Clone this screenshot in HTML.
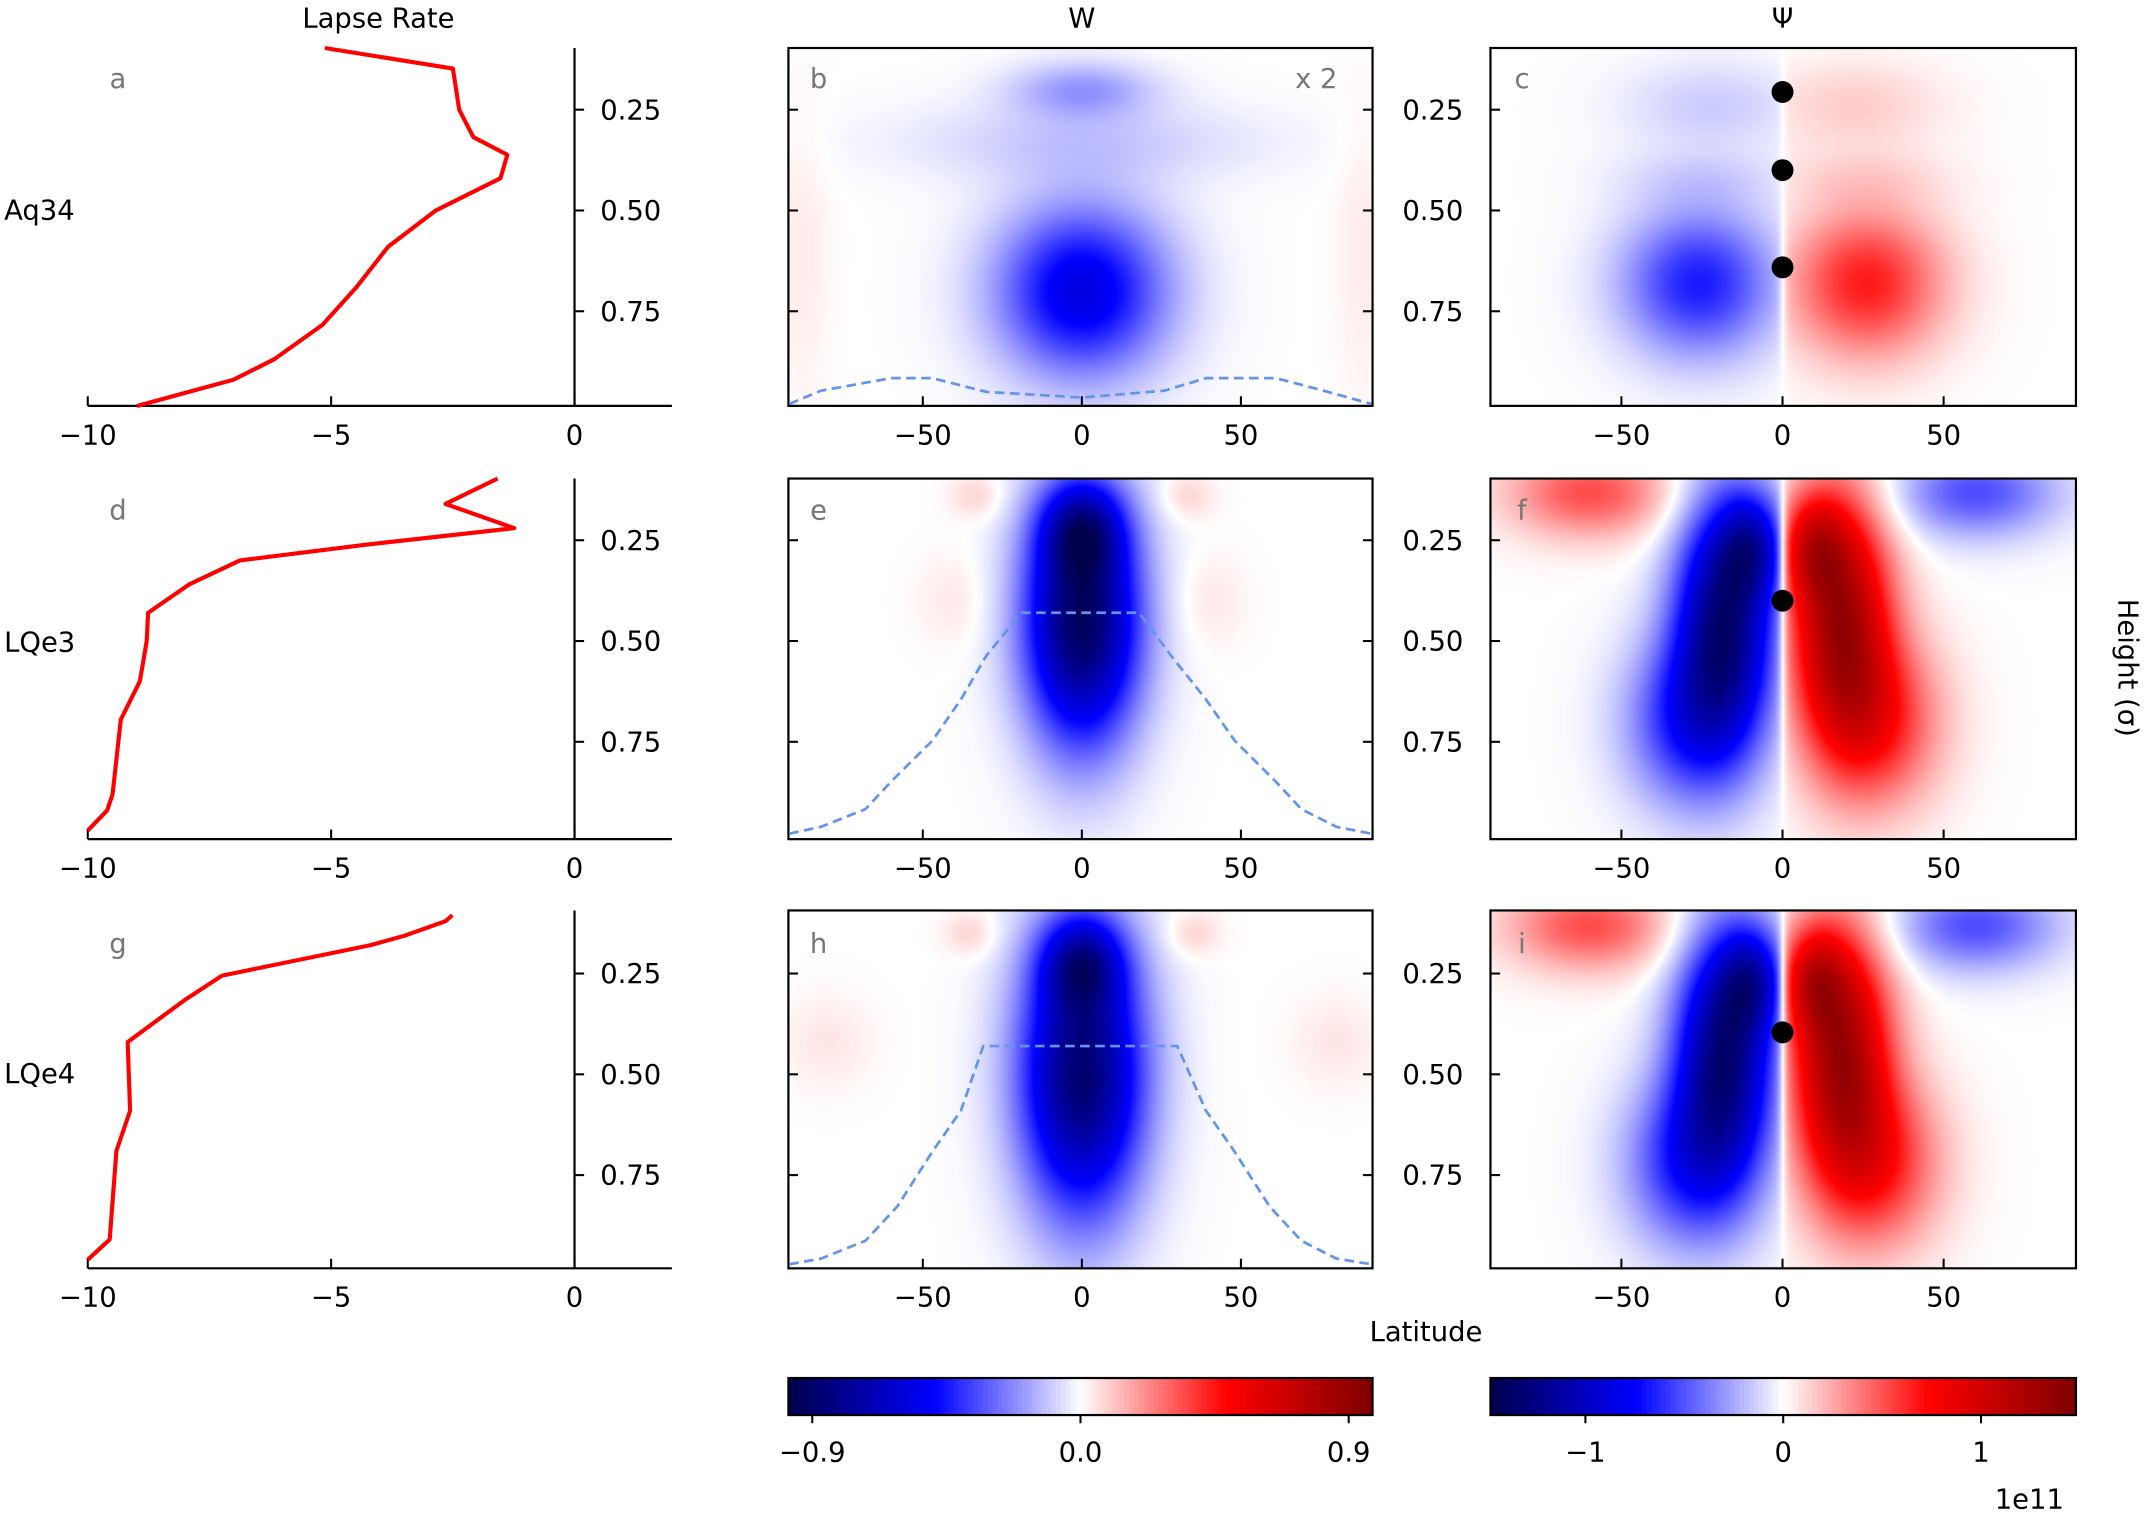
<!DOCTYPE html>
<html><head><meta charset="utf-8"><style>
html,body{margin:0;padding:0;background:#fff;}
#root{position:relative;width:1568px;height:1105px;transform:scale(1.37117);transform-origin:0 0;font-family:"DejaVu Sans","Liberation Sans",sans-serif;}
canvas{position:absolute;}
svg{position:absolute;left:0;top:0;}
</style></head><body>
<div id="root">
<svg id="s" width="1568" height="1105" viewBox="0 0 1568 1105"></svg>
</div>
<script>
// ---- data ----
const lapseRows = ["Aq34","LQe3","LQe4"];
const lapse1X = [-5.13,-2.5,-2.37,-2.08,-1.38,-1.52,-2.85,-3.83,-4.48,-5.18,-6.17,-7.01,-8.14,-8.99];
const lapse1S = [0.097,0.148,0.25,0.318,0.362,0.42,0.50,0.59,0.69,0.784,0.869,0.92,0.957,0.985];
const lapse2X = [-1.58,-2.65,-1.24,-4.2,-6.87,-7.92,-8.76,-8.79,-8.93,-9.32,-9.49,-9.6,-10];
const lapse2S = [0.097,0.16,0.22,0.26,0.30,0.36,0.43,0.50,0.60,0.695,0.88,0.92,0.97];
const lapse3X = [-2.51,-2.65,-3.49,-4.2,-7.24,-8.0,-9.18,-9.13,-9.41,-9.55,-10];
const lapse3S = [0.105,0.12,0.156,0.18,0.255,0.315,0.42,0.59,0.69,0.91,0.96];
const dashBLat = [-92,-82,-60,-47,-30,0,26,39,61,76,91];
const dashBSig = [0.98,0.947,0.916,0.916,0.95,0.964,0.947,0.916,0.916,0.947,0.98];
const dashELat = [-92,-82,-68,-60,-47,-38,-30,-19,18,28,39,48,61,69,80,91];
const dashESig = [0.978,0.961,0.917,0.849,0.747,0.645,0.536,0.43,0.43,0.536,0.645,0.747,0.849,0.917,0.961,0.978];
const dashHLat = [-92,-82,-68,-58,-47,-38,-31,30,39,48,59,69,80,91];
const dashHSig = [0.971,0.957,0.913,0.828,0.692,0.59,0.43,0.43,0.59,0.692,0.828,0.913,0.957,0.971];
const dotsC = [0.206,0.40,0.641];
const dotsF = [0.40];
const dotsI = [0.396];
const xTicksLapse = [-10,-5,0];
const xTicksLat = [-50,0,50];
const yTicksSig = [0.25,0.50,0.75];
const cbarWTicks = [-0.9,0.0,0.9];
const cbarWLabels = ["\u22120.9","0.0","0.9"];
const cbarPTicks = [-1,0,1];
const cbarPLabels = ["\u22121","0","1"];
// blobs: [absLat, sigma, sLat, sSig, amp]
const blobsB = [[0,0.70,19,0.15,-0.58],[0,0.2,16,0.05,-0.2],[0,0.33,40,0.07,-0.1],[88,0.6,6,0.25,0.04]];
const blobsE = [[0,0.45,13,0.22,-0.95],[0,0.22,9,0.08,-0.45],[33,0.14,6,0.04,0.09],[40,0.4,8,0.08,0.05]];
const blobsH = [[0,0.5,14,0.25,-0.9],[0,0.22,9,0.08,-0.45],[35,0.15,6,0.04,0.09],[80,0.42,10,0.08,0.05]];
const blobsC = [[26,0.68,17,0.13,0.45],[22,0.24,20,0.08,0.1],[25,0.42,20,0.05,0.06]];
const blobsF = [[18,0.44,11,0.22,0.85],[30,0.70,14,0.15,0.4],[9,0.26,7,0.09,0.4],[60,0.13,18,0.08,-0.35]];
const blobsI = [[18,0.44,11,0.22,0.85],[30,0.72,14,0.15,0.4],[9,0.26,7,0.09,0.4],[60,0.13,18,0.08,-0.35]];

// ---- layout ----
const rowsY=[[35,296],[349,612],[664,925]];
const sig0=[6.5,320.5,636.5]; const sigScale=294;
const NS="http://www.w3.org/2000/svg";
const svg=document.getElementById('s');
function el(t,a,parent){const e=document.createElementNS(NS,t);for(const k in a)e.setAttribute(k,a[k]);(parent||svg).appendChild(e);return e;}
function txt(x,y,s,anchor,size,fill,name){const t=el('text',{x:x,y:y,'text-anchor':anchor||'middle','font-size':size||20,fill:fill||'#000','font-family':'"DejaVu Sans","Liberation Sans",sans-serif'});t.textContent=s;return t;}
const sy=(r,s)=>sig0[r]+s*sigScale;
const lx=v=>419+v*35.5;
const colW={x0:575,x1:1001,c:789,k:2.32};
const colP={x0:1087,x1:1514,c:1300,k:2.35};
function cmap(v){v=Math.max(-1,Math.min(1,v));let t=(v+1)/2;let r,g,b;
 if(t<0.25){const u=t/0.25;r=0;g=0;b=0.3+0.7*u;}else if(t<0.5){const u=(t-0.25)/0.25;r=u;g=u;b=1;}
 else if(t<0.75){const u=(t-0.5)/0.25;r=1;g=1-u;b=1-u;}else{const u=(t-0.75)/0.25;r=1-0.5*u;g=0;b=0;}
 return [r*255,g*255,b*255];}
function field(blobs,lat,s){const a=Math.abs(lat);let v=0;for(const b of blobs){const dl=(a-b[0])/b[2],ds=(s-b[1])/b[3];v+=b[4]*Math.exp(-0.5*(dl*dl+ds*ds));}return v;}
function heat(col,r,blobs,anti,name){const x0=col.x0,x1=col.x1,y0=rowsY[r][0],y1=rowsY[r][1];const w=x1-x0,h=y1-y0;
 const c=document.createElement('canvas');c.width=w*2;c.height=h*2;c.style.left=x0+'px';c.style.top=y0+'px';c.style.width=w+'px';c.style.height=h+'px';
 
 const ctx=c.getContext('2d');const img=ctx.createImageData(c.width,c.height);
 for(let j=0;j<c.height;j++){const py=y0+j/2;const s=(py-sig0[r])/sigScale;for(let i=0;i<c.width;i++){const px=x0+i/2;const lat=(px-col.c)/col.k;
  let v=field(blobs,lat,s);if(anti)v*=Math.tanh(lat/1.5);const [R,G,B]=cmap(v);const k=(j*c.width+i)*4;img.data[k]=R;img.data[k+1]=G;img.data[k+2]=B;img.data[k+3]=255;}}
 ctx.putImageData(img,0,0);document.getElementById('root').insertBefore(c,svg);}
function frame(col,r,leftLabels,rightTicks,name){const y0=rowsY[r][0],y1=rowsY[r][1];
 const g=el('g',{});
 el('rect',{x:col.x0,y:y0,width:col.x1-col.x0,height:y1-y0,fill:'none',stroke:'#000','stroke-width':1.6},g);
 for(const t of xTicksLat){const x=col.c+t*col.k;el('line',{x1:x,x2:x,y1:y1,y2:y1-7,stroke:'#000','stroke-width':1.5},g);txt(x,y1+28,t<0?'\u2212'+(-t):String(t),'middle',20,'#000','x-tick-label');}
 for(const s of yTicksSig){const y=sy(r,s);el('line',{x1:col.x0,x2:col.x0+7,y1:y,y2:y,stroke:'#000','stroke-width':1.5},g);
  if(rightTicks)el('line',{x1:col.x1,x2:col.x1-7,y1:y,y2:y,stroke:'#000','stroke-width':1.5},g);
  if(leftLabels)txt(col.x0-42,y+7,s.toFixed(2),'middle',20,'#000','y-tick-label');}
}
function poly(xs,ys,attrs,name){const p=xs.map((v,i)=>v.toFixed(1)+','+ys[i].toFixed(1)).join(' ');const e=el('polyline',Object.assign({points:p,fill:'none'},attrs));return e;}

heat(colW,0,blobsB,false,'heatmap-b');heat(colW,1,blobsE,false,'heatmap-e');heat(colW,2,blobsH,false,'heatmap-h');
heat(colP,0,blobsC,true,'heatmap-c');heat(colP,1,blobsF,true,'heatmap-f');heat(colP,2,blobsI,true,'heatmap-i');

const LX=[lapse1X,lapse2X,lapse3X],LS=[lapse1S,lapse2S,lapse3S];
for(let r=0;r<3;r++){const y0=rowsY[r][0],y1=rowsY[r][1];
 const g=el('g',{});
 el('line',{x1:64,x2:490,y1:y1,y2:y1,stroke:'#000','stroke-width':1.6},g);
 el('line',{x1:419,x2:419,y1:y0,y2:y1,stroke:'#000','stroke-width':1.6},g);
 for(const t of xTicksLapse){const x=lx(t);el('line',{x1:x,x2:x,y1:y1,y2:y1-7,stroke:'#000','stroke-width':1.5},g);txt(x,y1+28,t<0?'\u2212'+(-t):String(t),'middle',20,'#000','x-tick-label');}
 for(const s of yTicksSig){const y=sy(r,s);el('line',{x1:419,x2:426,y1:y,y2:y,stroke:'#000','stroke-width':1.5},g);txt(460,y+7,s.toFixed(2),'middle',20,'#000','y-tick-label');}
 poly(LX[r].map(lx),LS[r].map(s=>sy(r,s)),{stroke:'#ff0000','stroke-width':3,'stroke-linejoin':'round'},'lapse-rate-line-'+lapseRows[r]);
 txt(3,[153,468,783][r]+7,lapseRows[r],'start',20,'#000','row-label');
}
frame(colW,0,false,true,'w-axes-b');frame(colW,1,false,true,'w-axes-e');frame(colW,2,false,true,'w-axes-h');
frame(colP,0,true,false,'psi-axes-c');frame(colP,1,true,false,'psi-axes-f');frame(colP,2,true,false,'psi-axes-i');
const DL=[dashBLat,dashELat,dashHLat],DS=[dashBSig,dashESig,dashHSig];
for(let r=0;r<3;r++){poly(DL[r].map(l=>colW.c+l*colW.k),DS[r].map(s=>sy(r,s)),{stroke:'#6495ed','stroke-width':2,'stroke-dasharray':'7,4'},'tropopause-dashed-line');}
const DOTS=[dotsC,dotsF,dotsI];
for(let r=0;r<3;r++)for(const s of DOTS[r]){const c=el('circle',{cx:colP.c,cy:sy(r,s),r:8,fill:'#000'});}
const lets=[['a','b','c'],['d','e','f'],['g','h','i']];
for(let r=0;r<3;r++)for(let c=0;c<3;c++)txt([86,597,1110][c],[57,372,688][r]+7,lets[r][c],'middle',20,'#777','panel-letter');
txt(960,64,'x 2','middle',20,'#777','scale-note');
txt(276,20,'Lapse Rate','middle',20,'#000','column-title');
txt(789,20,'W','middle',20,'#000','column-title');
txt(1300,20,'\u03a8','middle',20,'#000','column-title');
txt(1040,978,'Latitude','middle',20,'#000','x-axis-title');
const ht=txt(1552,480,'Height (\u03c3)','middle',20,'#000','y-axis-title');ht.setAttribute('transform','rotate(90 1545 480)');
function cbar(col,ticks,labels,vmax,name){const x0=col.x0,x1=col.x1,y0=1005,y1=1032;
 const g=el('g',{});
 const n=120;for(let i=0;i<n;i++){const v=-1+2*(i+0.5)/n;const [R,G,B]=cmap(v);el('rect',{x:x0+(x1-x0)*i/n,y:y0,width:(x1-x0)/n+0.6,height:y1-y0,fill:`rgb(${R|0},${G|0},${B|0})`},g);}
 el('rect',{x:x0,y:y0,width:x1-x0,height:y1-y0,fill:'none',stroke:'#000','stroke-width':1.6},g);
 ticks.forEach((t,i)=>{const x=x0+(t/vmax+1)/2*(x1-x0);el('line',{x1:x,x2:x,y1:y1,y2:y1+6,stroke:'#000','stroke-width':1.5},g);txt(x,y1+34,labels[i],'middle',20,'#000','colorbar-tick-label');});}
cbar(colW,cbarWTicks,cbarWLabels,0.98,'colorbar-w');
cbar(colP,cbarPTicks,cbarPLabels,1.48,'colorbar-psi');
txt(1480,1100,'1e11','middle',20,'#000','colorbar-exponent');
</script>
</body></html>
